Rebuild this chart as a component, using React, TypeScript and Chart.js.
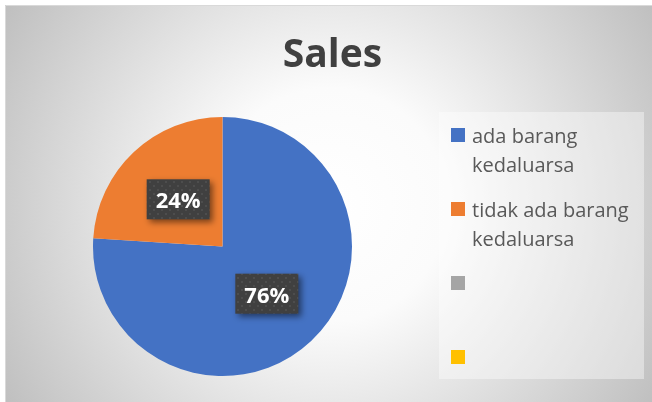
import React, { useEffect, useRef } from 'react';
import { Chart, registerables } from 'chart.js';

Chart.register(...registerables);

const titleText = 'Sales';
const categories = ['ada barang kedaluarsa', 'tidak ada barang kedaluarsa', '', ''];
const values = [76, 24, 0, 0];
const colors = ['#4472C4', '#ED7D31', '#A5A5A5', '#FFC000'];

const FONT = '"Open Sans", "Noto Sans", sans-serif';

function makePattern(ctx: CanvasRenderingContext2D) {
  const c = document.createElement('canvas');
  c.width = 8;
  c.height = 8;
  const p = c.getContext('2d')!;
  p.fillStyle = '#404040';
  p.fillRect(0, 0, 8, 8);
  p.fillStyle = '#4d4d4d';
  p.fillRect(1, 1, 2, 2);
  p.fillRect(5, 5, 2, 2);
  return ctx.createPattern(c, 'repeat');
}

const backgroundPlugin = {
  id: 'bg',
  beforeDraw(chart: any) {
    const ctx = chart.ctx as CanvasRenderingContext2D;
    const W = chart.width;
    const H = chart.height;
    ctx.save();
    ctx.fillStyle = '#ffffff';
    ctx.fillRect(0, 0, W, H);
    const cx = 330;
    const cy = 205;
    const g = ctx.createRadialGradient(cx, cy, 0, cx, cy, 390);
    g.addColorStop(0, '#ffffff');
    g.addColorStop(0.3, '#fbfbfb');
    g.addColorStop(1, '#bdbdbd');
    ctx.fillStyle = g;
    ctx.fillRect(5, 5, W - 5, H - 5);
    ctx.strokeStyle = '#d9d9d9';
    ctx.lineWidth = 1;
    ctx.beginPath();
    ctx.moveTo(5.5, H);
    ctx.lineTo(5.5, 5.5);
    ctx.lineTo(W, 5.5);
    ctx.stroke();
    // title
    ctx.fillStyle = '#404040';
    ctx.font = `bold 39px ${FONT}`;
    ctx.textAlign = 'center';
    ctx.textBaseline = 'alphabetic';
    ctx.fillText(titleText, 332.5, 67);
    ctx.restore();
  },
};

const labelPlugin = {
  id: 'pctLabels',
  afterDatasetsDraw(chart: any) {
    const ctx = chart.ctx as CanvasRenderingContext2D;
    const meta = chart.getDatasetMeta(0);
    const total = values.reduce((a, b) => a + b, 0);
    const pattern = makePattern(ctx);
    meta.data.forEach((arc: any, i: number) => {
      const v = values[i];
      if (!v) return;
      const p = arc.getProps(['x', 'y', 'startAngle', 'endAngle', 'outerRadius'], true);
      const mid = (p.startAngle + p.endAngle) / 2;
      const r = p.outerRadius * 0.5;
      const cx = p.x + Math.cos(mid) * r;
      const cy = p.y + Math.sin(mid) * r;
      const text = Math.round((v / total) * 100) + '%';
      const w = 63;
      const h = 40;
      ctx.save();
      ctx.shadowColor = 'rgba(0,0,0,0.5)';
      ctx.shadowBlur = 6;
      ctx.shadowOffsetX = 3;
      ctx.shadowOffsetY = 3;
      ctx.fillStyle = pattern || '#404040';
      ctx.fillRect(cx - w / 2, cy - h / 2, w, h);
      ctx.restore();
      ctx.save();
      ctx.fillStyle = '#ffffff';
      ctx.font = `bold 22px ${FONT}`;
      ctx.textAlign = 'center';
      ctx.textBaseline = 'alphabetic';
      ctx.fillText(text, cx, cy + 9);
      ctx.restore();
    });
  },
};

function wrap(ctx: CanvasRenderingContext2D, text: string, maxW: number) {
  const words = text.split(' ').filter((w) => w.length);
  const lines: string[] = [];
  let cur = '';
  words.forEach((w) => {
    const t = cur ? cur + ' ' + w : w;
    if (ctx.measureText(t).width > maxW && cur) {
      lines.push(cur);
      cur = w;
    } else cur = t;
  });
  if (cur) lines.push(cur);
  return lines;
}

const legendPlugin = {
  id: 'customLegend',
  afterDraw(chart: any) {
    const ctx = chart.ctx as CanvasRenderingContext2D;
    ctx.save();
    ctx.fillStyle = 'rgba(255,255,255,0.4)';
    ctx.fillRect(439, 112, 205, 267);
    ctx.font = `20px ${FONT}`;
    ctx.textAlign = 'left';
    ctx.textBaseline = 'alphabetic';
    categories.forEach((label, i) => {
      const top = 128 + i * 74;
      ctx.fillStyle = colors[i];
      ctx.fillRect(451, top, 14, 14);
      ctx.fillStyle = '#595959';
      const lines = wrap(ctx, label, 166);
      lines.forEach((ln, j) => {
        ctx.fillText(ln, 472, top + 14.5 + j * 29);
      });
    });
    ctx.restore();
  },
};

export default function App() {
  const ref = useRef<HTMLCanvasElement>(null);
  useEffect(() => {
    let chart: Chart | null = null;
    let cancelled = false;
    const make = () => {
      if (cancelled || !ref.current) return;
      chart = new Chart(ref.current, {
        type: 'pie',
        data: {
          labels: categories,
          datasets: [
            {
              data: values,
              backgroundColor: colors,
              borderWidth: 0,
            },
          ],
        },
        options: {
          responsive: false,
          animation: false,
          layout: { padding: { left: 93, right: 300, top: 117, bottom: 26 } },
          plugins: {
            legend: { display: false },
            title: { display: false },
            tooltip: { enabled: false },
          },
        },
        plugins: [backgroundPlugin, labelPlugin, legendPlugin],
      } as any);
    };
    Promise.all([
      document.fonts.load(`bold 39px "Open Sans"`),
      document.fonts.load(`20px "Open Sans"`),
    ])
      .catch(() => {})
      .then(make);
    return () => {
      cancelled = true;
      if (chart) chart.destroy();
    };
  }, []);
  return (
    <div style={{ position: 'fixed', left: 0, top: 0, width: 652, height: 402 }}>
      <canvas ref={ref} width={652} height={402} style={{ width: 652, height: 402, display: 'block' }} />
    </div>
  );
}
